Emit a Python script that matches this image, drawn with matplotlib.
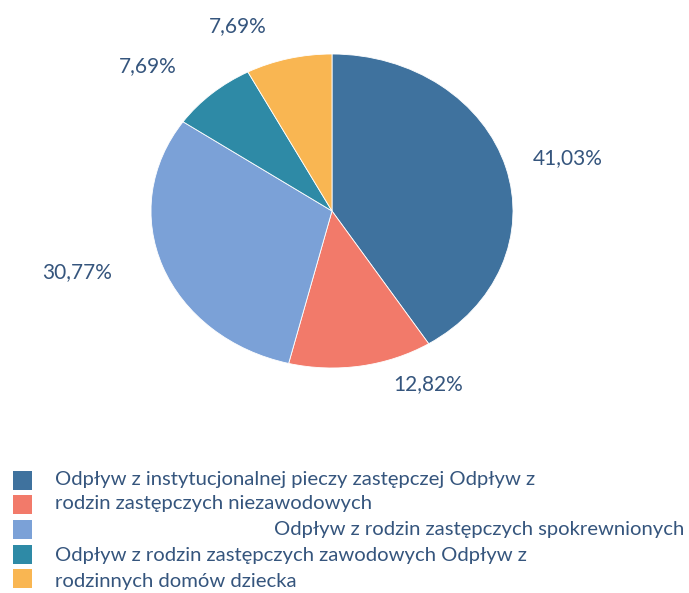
import matplotlib
matplotlib.use("Agg")
import matplotlib.pyplot as plt
from matplotlib.patches import Rectangle

plt.rcParams['font.family'] = ['Lato', 'DejaVu Sans']

# data
categories = [
    "Odpływ z instytucjonalnej pieczy zastępczej",
    "Odpływ z rodzin zastępczych niezawodowych",
    "Odpływ z rodzin zastępczych spokrewnionych",
    "Odpływ z rodzin zastępczych zawodowych",
    "Odpływ z rodzinnych domów dziecka",
]
shares = [41.03, 12.82, 30.77, 7.69, 7.69]
colors = ['#3F729E', '#F27A6A', '#7BA1D7', '#2E8AA6', '#F9B652']
text_color = '#35557D'

# legend lines as they wrap in the original
legend_lines = [
    ("Odpływ z instytucjonalnej pieczy zastępczej Odpływ z", 'left'),
    ("rodzin zastępczych niezawodowych", 'left'),
    ("Odpływ z rodzin zastępczych spokrewnionych", 'right'),
    ("Odpływ z rodzin zastępczych zawodowych Odpływ z", 'left'),
    ("rodzinnych domów dziecka", 'left'),
]

# label positions (in pie axes units), hand placed like Excel's best fit
label_pos = [(1.30, 0.34), (0.53, -1.10), (-1.41, -0.39), (-1.02, 0.92), (-0.52, 1.18)]

W, H = 689, 593
fig = plt.figure(figsize=(W / 100, H / 100), dpi=100)

# pie is slightly squashed in the scan -> ellipse
cx, cy, rx, ry = 332, 211, 181, 157
ax = fig.add_axes([(cx - rx) / W, 1 - (cy + ry) / H, 2 * rx / W, 2 * ry / H])
ax.pie(shares, colors=colors, startangle=90, counterclock=False,
       wedgeprops=dict(linewidth=0.6, edgecolor='white'))
ax.set_aspect('auto')
ax.set_xlim(-1, 1)
ax.set_ylim(-1, 1)
ax.axis('off')

for v, (lx, ly) in zip(shares, label_pos):
    ax.text(lx, ly, f"{v:.2f}%".replace('.', ','), ha='center', va='center',
            fontsize=15, color=text_color, clip_on=False)

# legend
sq_y = [480, 504, 529, 554, 578]
for c, y in zip(colors, sq_y):
    fig.patches.append(Rectangle((13 / W, 1 - (y + 9.5) / H), 19 / W, 19 / H,
                                 transform=fig.transFigure, facecolor=c,
                                 edgecolor='none'))

line_y = [479, 504, 530, 556, 581]
for (txt, al), y in zip(legend_lines, line_y):
    x = 55 / W if al == 'left' else 684 / W
    fig.text(x, 1 - y / H, txt, ha=al, va='center', fontsize=14.6,
             color=text_color)

fig.savefig("out.png", dpi=100)
